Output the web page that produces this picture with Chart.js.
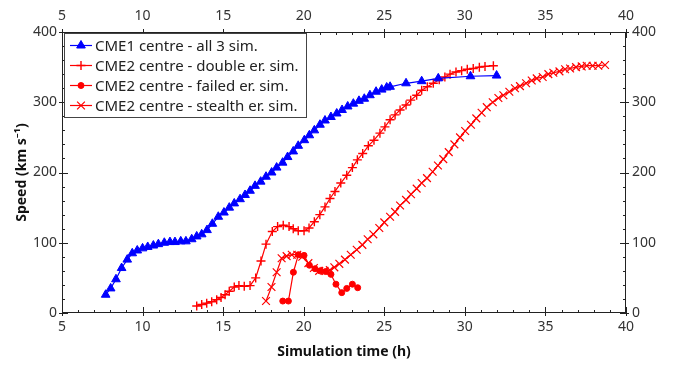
<!DOCTYPE html>
<html>
<head>
<meta charset="utf-8">
<script src="https://cdn.jsdelivr.net/npm/chart.js@4.4.1/dist/chart.umd.min.js"></script>
<style>
  html, body { margin: 0; padding: 0; background: #fff; }
  #wrap { position: relative; width: 676px; height: 365px; }
</style>
</head>
<body>
<div id="wrap"><canvas id="speed"></canvas></div>
<script>
// CME1 centre - all 3 sim.
const cme1Time = [7.71, 8.02, 8.35, 8.70, 9.05, 9.36, 9.67, 10.0, 10.32, 10.67, 10.98, 11.35, 11.70, 12.01, 12.37, 12.69, 13.05, 13.36, 13.67, 14.0,
  14.33, 14.70, 15.05, 15.38, 15.69, 16.05, 16.36, 16.67, 16.98, 17.33, 17.66, 18.01, 18.32, 18.69, 19.0, 19.35, 19.66, 20.04, 20.35, 20.66,
  21.01, 21.32, 21.69, 22.05, 22.38, 22.73, 23.08, 23.43, 23.76, 24.11, 24.49, 24.84, 25.15, 25.36, 26.35, 27.32, 28.35, 30.35, 31.97];
const cme1Speed = [26, 35, 48, 64, 76, 85, 89, 92, 94, 96, 98, 100, 101, 101, 102, 102, 105, 109, 112, 118,
  127, 137, 143, 150, 156, 162, 168, 174, 181, 187, 194, 200, 207, 214, 222, 230, 238, 246, 253, 260,
  268, 274, 279, 284, 289, 294, 298, 302, 305, 310, 315, 318, 321, 322, 327, 330, 334, 337, 338];

// CME2 centre - double er. sim.
const doubleTime = [13.36, 13.67, 13.98, 14.29, 14.6, 14.87, 15.12, 15.38, 15.69, 15.98, 16.31, 16.67, 17.02, 17.35, 17.66, 18.05, 18.38, 18.73, 19.09, 19.35,
  19.66, 20.02, 20.33, 20.66, 21.0, 21.32, 21.63, 21.94, 22.3, 22.67, 23.02, 23.33, 23.66, 24.01, 24.36, 24.73, 25.04, 25.36, 25.67, 25.98,
  26.35, 26.64, 27.01, 27.32, 27.67, 28.04, 28.41, 28.76, 29.08, 29.45, 29.8, 30.15, 30.52, 30.9, 31.25, 31.77];
const doubleSpeed = [10, 12, 14, 16, 19, 22, 26, 31, 37, 39, 38, 39, 50, 74, 98, 116, 123, 125, 123, 120,
  117, 117, 121, 130, 140, 151, 163, 173, 185, 196, 207, 218, 227, 238, 246, 256, 265, 275, 282, 289,
  296, 303, 310, 317, 322, 327, 332, 336, 340, 343, 345, 347, 348, 350, 351, 352];

// CME2 centre - failed er. sim.
const failedTime = [18.70, 19.05, 19.36, 19.67, 20.02, 20.35, 20.70, 21.01, 21.36, 21.69, 22.0, 22.36, 22.67, 23.02, 23.35];
const failedSpeed = [17, 17, 58, 83, 82, 68, 63, 60, 59, 55, 41, 29, 35, 41, 36];

// CME2 centre - stealth er. sim.
const stealthTime = [17.66, 18.0, 18.32, 18.63, 18.94, 19.26, 19.6, 19.91, 20.29, 20.63, 20.96, 21.29, 21.62, 21.9, 22.21, 22.56, 22.92, 23.29, 23.64, 23.97,
  24.32, 24.69, 25.0, 25.36, 25.67, 25.98, 26.35, 26.66, 27.01, 27.32, 27.65, 28.0, 28.33, 28.66, 29.0, 29.35, 29.70, 30.02, 30.38, 30.71,
  31.04, 31.36, 31.73, 32.08, 32.39, 32.76, 33.11, 33.42, 33.8, 34.15, 34.46, 34.83, 35.18, 35.49, 35.87, 36.22, 36.53, 36.9, 37.25, 37.56,
  37.93, 38.28, 38.7];
const stealthSpeed = [17, 37, 58, 78, 81, 83, 83, 80, 71, 64, 60, 60, 61, 65, 70, 76, 83, 90, 97, 105,
  112, 121, 129, 137, 144, 153, 161, 169, 177, 185, 192, 201, 210, 219, 229, 240, 250, 259, 268, 277,
  285, 293, 300, 306, 310, 315, 320, 323, 327, 331, 334, 336, 340, 342, 344, 347, 348, 350, 351, 352,
  352, 352, 353];

const seriesLabels = ["CME1 centre - all 3 sim.", "CME2 centre - double er. sim.", "CME2 centre - failed er. sim.", "CME2 centre - stealth er. sim."];

const xMin = 5, xMax = 40, yMin = 0, yMax = 400;

const pts = (xs, ys) => xs.map((x, i) => ({ x: x, y: ys[i] }));

const font = "'Noto Sans', 'Open Sans', sans-serif";
const tickColor = "#333";

// draws the frame and the inward tick marks on all four sides
const frameTicks = {
  id: "frameTicks",
  afterDatasetsDraw(chart) {
    const { ctx, chartArea: a } = chart;
    const xs = chart.scales.x, ys = chart.scales.y;
    ctx.save();
    ctx.strokeStyle = "#222";
    ctx.lineWidth = 1;
    ctx.strokeRect(a.left + 0.5, a.top + 0.5, a.right - a.left - 1, a.bottom - a.top - 1);
    ctx.beginPath();
    for (let v = xMin; v <= xMax; v += 1) {
      const px = Math.round(xs.getPixelForValue(v)) + 0.5;
      const major = v % 5 === 0;
      const inn = major ? 6 : 3, out = major ? 3 : 0;
      ctx.moveTo(px, a.bottom + out); ctx.lineTo(px, a.bottom - inn);
      ctx.moveTo(px, a.top - out); ctx.lineTo(px, a.top + inn);
    }
    for (let v = yMin; v <= yMax; v += 20) {
      const py = Math.round(ys.getPixelForValue(v)) + 0.5;
      const major = v % 100 === 0;
      const inn = major ? 6 : 3, out = major ? 3 : 0;
      ctx.moveTo(a.left - out, py); ctx.lineTo(a.left + inn, py);
      ctx.moveTo(a.right + out, py); ctx.lineTo(a.right - inn, py);
    }
    ctx.stroke();
    ctx.restore();
  }
};

// boxed legend in the upper left corner of the plot
const boxLegend = {
  id: "boxLegend",
  afterDraw(chart) {
    const { ctx, chartArea: a } = chart;
    const bx = a.left + 2, by = a.top + 1, bw = 242, bh = 84;
    ctx.save();
    ctx.fillStyle = "#fff";
    ctx.fillRect(bx, by, bw, bh);
    ctx.strokeStyle = "#444";
    ctx.lineWidth = 1;
    ctx.strokeRect(bx + 0.5, by + 0.5, bw, bh);
    ctx.font = "15px " + font;
    ctx.textBaseline = "middle";
    chart.data.datasets.forEach((ds, i) => {
      const cy = by + 12.5 + i * 20;
      ctx.strokeStyle = ds.borderColor;
      ctx.lineWidth = ds.borderWidth;
      ctx.beginPath();
      ctx.moveTo(bx + 6, cy); ctx.lineTo(bx + 28, cy);
      ctx.stroke();
      ctx.fillStyle = ds.pointBackgroundColor;
      ctx.strokeStyle = ds.pointBorderColor;
      ctx.lineWidth = ds.pointBorderWidth;
      Chart.helpers.drawPoint(ctx, { pointStyle: ds.pointStyle, radius: ds.pointRadius, rotation: 0, borderWidth: ds.pointBorderWidth }, bx + 17, cy);
      ctx.fillStyle = "#222";
      ctx.fillText(ds.label, bx + 31, cy + 1);
    });
    ctx.restore();
  }
};

const blue = "#0000ff", red = "#ff0000";
const mk = (label, data, color, style, radius, bw) => ({
  label: label,
  data: data,
  borderColor: color,
  backgroundColor: color,
  borderWidth: 1.2,
  pointStyle: style,
  pointRadius: radius,
  pointBackgroundColor: color,
  pointBorderColor: color,
  pointBorderWidth: bw,
  pointHoverRadius: radius,
  tension: 0
});

const ctx = document.getElementById("speed").getContext("2d");
new Chart(ctx, {
  type: "line",
  data: {
    datasets: [
      mk(seriesLabels[0], pts(cme1Time, cme1Speed), blue, "triangle", 5, 1),
      mk(seriesLabels[1], pts(doubleTime, doubleSpeed), red, "cross", 4.5, 1.4),
      mk(seriesLabels[2], pts(failedTime, failedSpeed), red, "circle", 3, 1),
      mk(seriesLabels[3], pts(stealthTime, stealthSpeed), red, "crossRot", 5.5, 1.2)
    ]
  },
  options: {
    responsive: true,
    maintainAspectRatio: false,
    animation: false,
    layout: { padding: 0 },
    plugins: {
      legend: { display: false },
      tooltip: { enabled: false }
    },
    scales: {
      x: {
        type: "linear", position: "bottom", min: xMin, max: xMax,
        afterFit: (s) => { s.height = 52; },
        grid: { display: false, drawTicks: false },
        border: { display: false },
        ticks: { stepSize: 5, padding: 6, color: tickColor, font: { family: font, size: 14 } },
        title: { display: true, text: "Simulation time (h)", color: "#111", padding: { top: 0, bottom: 5 }, font: { family: font, size: 14, weight: "bold" } }
      },
      x2: {
        type: "linear", position: "top", min: xMin, max: xMax, display: true,
        afterFit: (s) => { s.height = 32; },
        grid: { display: false, drawTicks: false },
        border: { display: false },
        ticks: { stepSize: 5, padding: 8, color: tickColor, font: { family: font, size: 14 } }
      },
      y: {
        type: "linear", position: "left", min: yMin, max: yMax,
        afterFit: (s) => { s.width = 62; },
        grid: { display: false, drawTicks: false },
        border: { display: false },
        ticks: { stepSize: 100, padding: 5, color: tickColor, font: { family: font, size: 14 } },
        title: { display: true, text: "Speed (km s\u207B\u00B9)", color: "#111", padding: { top: 14, bottom: 0 }, font: { family: font, size: 14, weight: "bold" } }
      },
      y2: {
        type: "linear", position: "right", min: yMin, max: yMax, display: true,
        afterFit: (s) => { s.width = 50; },
        grid: { display: false, drawTicks: false },
        border: { display: false },
        ticks: { stepSize: 100, padding: 6, color: tickColor, font: { family: font, size: 14 } }
      }
    }
  },
  plugins: [frameTicks, boxLegend]
});
</script>
</body>
</html>
